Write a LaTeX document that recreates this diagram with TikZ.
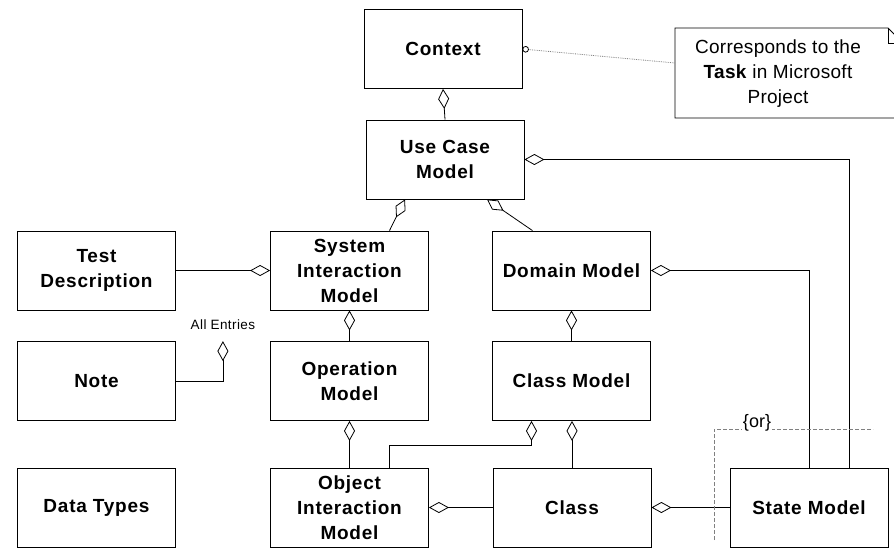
\documentclass[tikz,border=0pt]{standalone}
\usepackage{fontspec}
\setmainfont{Liberation Sans}
\usetikzlibrary{arrows.meta, calc, positioning}

\begin{document}
\begin{tikzpicture}[
    x=1pt, y=-1pt, % one unit = one pixel of the layout, y downwards
    box/.style={draw, line width=0.8pt, minimum width=158pt, minimum height=79pt,
        inner sep=0pt, align=center,
        font=\fontsize{19}{25}\selectfont\bfseries\addfontfeature{LetterSpace=4}}, % Style for the model boxes
    agg/.style={line width=0.8pt, {Diamond[open,length=20pt,width=11pt]}-}, % aggregation with hollow diamond
    notetext/.style={align=center, inner sep=0pt,
        font=\fontsize{19}{25}\selectfont\addfontfeature{LetterSpace=1.5}}, % Style for the note text
    smalltext/.style={inner sep=0pt, font=\fontsize{13.5}{16}\selectfont\addfontfeature{LetterSpace=3}}
]

    \useasboundingbox (0,0) rectangle (894,547);
    \clip (0,0) rectangle (894,547);

    % Boxes
    \node[box] (ctx)  at (443,49)    {Context};
    \node[box] (ucm)  at (445,159.5) {Use Case\\Model};
    \node[box] (tst)  at (96.5,270.5)  {Test\\Description};
    \node[box] (sim)  at (349.5,270.5) {System\\Interaction\\Model};
    \node[box] (dom)  at (571.5,270.5) {Domain Model};
    \node[box] (nte)  at (96.5,381)    {Note};
    \node[box] (opm)  at (349.5,381)   {Operation\\Model};
    \node[box] (clsm) at (571.5,381)   {Class Model};
    \node[box] (dty)  at (96.5,507.5)  {Data Types};
    \node[box] (oim)  at (349.5,507.5) {Object\\Interaction\\Model};
    \node[box] (cls)  at (572,507.5)   {Class};
    \node[box] (stm)  at (809,507.5)   {State Model};

    % Note with folded corner
    \draw[line width=0.8pt] (675,28) -- (888,28) -- (903,43) -- (903,118) -- (675,118) -- cycle;
    \draw[line width=0.8pt] (888,28) -- (888,43) -- (903,43);
    \node[notetext] (task) at (778,74) {Corresponds to the\\\textbf{Task} in Microsoft\\Project};
    \coordinate (tn) at (675,63);
    \draw[gray, densely dotted, line width=0.8pt, {Circle[open,length=6.5pt,black]}-] (ctx.east) -- (tn);

    % Helper points on the box edges
    \coordinate (ua) at ($(ucm.south)+(-40,0)$);
    \coordinate (ub) at ($(ucm.south)+(42,0)$);
    \coordinate (sa) at ($(sim.north)+(40,0)$);
    \coordinate (da) at ($(dom.north)+(-39,0)$);
    \coordinate (r1) at ($(stm.north)+(40,0)$);
    \coordinate (ae) at ($(nte.north east)+(47,0)$);
    \coordinate (ca) at ($(clsm.south)+(-40,0)$);
    \coordinate (oa) at ($(oim.north)+(40,0)$);

    % Aggregations
    \draw[agg] (ctx.south) -- (ucm.north);
    \draw[agg] (ua) -- (sa);
    \draw[agg] (ub) -- (da);
    \draw[agg] (ucm.east) -| (r1);
    \draw[agg] (dom.east) -| (stm.north);
    \draw[agg] (sim.west) -- (tst.east);
    \draw[agg] (sim.south) -- (opm.north);
    \draw[agg] (dom.south) -- (clsm.north);
    \draw[agg] (opm.south) -- (oim.north);
    \draw[agg] (ae) -- (ae |- nte.east) -- (nte.east);
    \draw[agg] (ca) -- ($(ca)+(0,24)$) -| (oa);
    \draw[agg] (clsm.south -| cls.north) -- (cls.north);
    \draw[agg] (oim.east) -- (cls.west);
    \draw[agg] (cls.east) -- (stm.west);

    \node[smalltext] (allent) at ($(ae)+(0,-16)$) {All Entries};

    % {or} constraint
    \coordinate (or1) at (714,540);
    \coordinate (or2) at (714,429);
    \coordinate (or3) at (873,429);
    \draw[gray, dashed, dash pattern=on 4pt off 2pt, line width=0.8pt] (or1) -- (or2) -- (or3);
    \node[fill=white, inner sep=0.5pt, font=\fontsize{18}{20}\selectfont] (ortxt) at (757,423) {\{or\}};

\end{tikzpicture}
\end{document}
